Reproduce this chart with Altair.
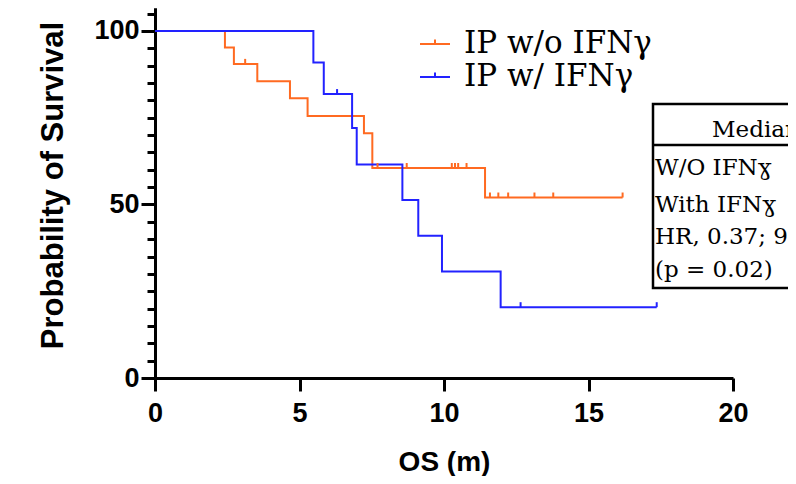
import altair as alt
import pandas as pd

# ---------------- data ----------------
groups = ["IP w/o IFNγ", "IP w/ IFNγ"]
colors = ["#FF6A21", "#2222FF"]

# IP w/o IFNγ : step curve (time in months, survival %)
wo_time = [0, 2.42, 2.73, 3.54, 4.67, 5.28, 7.23, 7.52, 11.42, 16.18]
wo_surv = [100, 95.2, 90.5, 85.5, 80.6, 75.5, 70.5, 60.5, 52.0, 52.0]
wo_cens_time = [3.12, 7.70, 8.71, 10.27, 10.38, 10.49, 10.78, 11.59, 11.88, 12.22, 13.13, 13.78, 16.18]
wo_cens_surv = [90.5, 60.5, 60.5, 60.5, 60.5, 60.5, 60.5, 52.0, 52.0, 52.0, 52.0, 52.0, 52.0]

# IP w/ IFNγ
w_time = [0, 5.48, 5.84, 6.82, 6.98, 8.56, 9.11, 9.93, 11.96, 17.36]
w_surv = [100, 90.9, 81.8, 72.0, 61.5, 51.3, 41.0, 30.7, 20.4, 20.4]
w_cens_time = [6.30, 12.65, 17.36]
w_cens_surv = [81.8, 20.4, 20.4]

x_ticks = [0, 5, 10, 15, 20]
y_major = [0, 50, 100]
y_minor = list(range(0, 110, 5))

table_header = "Median"
table_rows = ["W/O IFNɣ", "With IFNɣ", "HR, 0.37; 95% CI", "(p = 0.02)"]

# ---------------- tables ----------------
curve = pd.DataFrame({
    "t": wo_time + w_time,
    "s": wo_surv + w_surv,
    "g": [groups[0]] * len(wo_time) + [groups[1]] * len(w_time),
})
cens = pd.DataFrame({
    "t": wo_cens_time + w_cens_time,
    "s": wo_cens_surv + w_cens_surv,
    "g": [groups[0]] * len(wo_cens_time) + [groups[1]] * len(w_cens_time),
})
one = pd.DataFrame({"a": [0]})

SANS = "Liberation Sans"
SERIF = "DejaVu Serif"

xscale = alt.Scale(domain=[0, 20], nice=False, zero=False)
yscale = alt.Scale(domain=[0, 106.6], nice=False, zero=False)
cscale = alt.Scale(domain=groups, range=colors)

x_axis = alt.Axis(
    values=x_ticks, title="OS (m)", grid=False,
    tickSize=13, tickWidth=3, tickColor="black",
    domainWidth=3, domainColor="black",
    labelFont=SANS, labelFontWeight="bold", labelFontSize=27, labelColor="black",
    labelPadding=9, labelFlush=False,
    titleFont=SANS, titleFontWeight="bold", titleFontSize=28, titleColor="black",
    titlePadding=22,
)
y_axis_major = alt.Axis(
    orient="left", values=y_major, title="Probability of Survival", grid=False,
    tickSize=14, tickWidth=3, tickColor="black",
    domainWidth=3, domainColor="black",
    labelFont=SANS, labelFontWeight="bold", labelFontSize=27, labelColor="black",
    labelPadding=2, labelFlush=False, labelOverlap=False,
    titleFont=SANS, titleFontWeight="bold", titleFontSize=31, titleColor="black",
    titlePadding=24, titleY=177,
)
y_axis_minor = alt.Axis(
    orient="left", values=y_minor, title=None, grid=False, labels=False,
    tickSize=8, tickWidth=3, tickColor="black",
    domainWidth=3, domainColor="black",
)

legend = alt.Legend(
    title=None, orient="none", legendX=264, legendY=20,
    symbolType="M-1,0H1M0,0V-0.3", symbolSize=900, symbolStrokeWidth=2,
    labelFont=SERIF, labelFontSize=31, labelColor="black", labelOffset=13,
    rowPadding=2, labelLimit=0,
)

lines = alt.Chart(curve).mark_line(interpolate="step-after", strokeWidth=2).encode(
    x=alt.X("t:Q", scale=xscale, axis=x_axis),
    y=alt.Y("s:Q", scale=yscale, axis=y_axis_major),
    color=alt.Color("g:N", scale=cscale, legend=legend, sort=groups),
)

ticks = alt.Chart(cens).mark_point(
    shape="M0,0V-1", size=100, strokeWidth=2, filled=False, opacity=1
).encode(
    x=alt.X("t:Q", scale=xscale, axis=x_axis),
    y=alt.Y("s:Q", scale=yscale, axis=y_axis_minor),
    color=alt.Color("g:N", scale=cscale, legend=None),
)

# ---- table annotation (layout positions in pixels) ----
box = alt.Chart(one).mark_rect(fill="white", stroke="black", strokeWidth=2.5).encode(
    x=alt.value(498), x2=alt.value(760), y=alt.value(96), y2=alt.value(280)
)
sep = alt.Chart(one).mark_rule(color="black", strokeWidth=2.5).encode(
    x=alt.value(498), x2=alt.value(760), y=alt.value(137)
)
header = alt.Chart(one).mark_text(
    text=table_header, font=SERIF, fontSize=23, align="left", baseline="middle", color="black"
).encode(x=alt.value(557), y=alt.value(122))

row_y = [160, 197, 229, 262]
row_layers = [
    alt.Chart(one).mark_text(
        text=txt, font=SERIF, fontSize=23, align="left", baseline="middle", color="black"
    ).encode(x=alt.value(500), y=alt.value(yy))
    for txt, yy in zip(table_rows, row_y)
]

chart = alt.layer(lines, ticks, box, sep, header, *row_layers).resolve_axis(
    y="independent"
).properties(
    width=578, height=370,
    autosize=alt.AutoSizeParams(type="none"),
    padding={"left": 147, "top": 0, "right": 55, "bottom": 98},
    background="white",
).configure_view(stroke=None)

chart.save("out.html", embed_options={"renderer": "svg", "actions": False})
